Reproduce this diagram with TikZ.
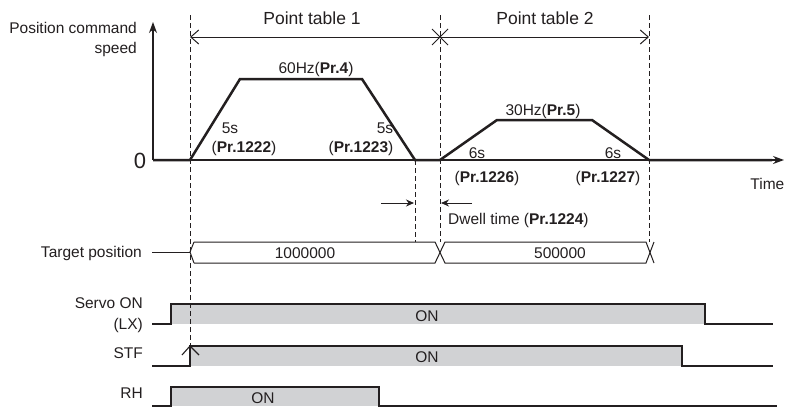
\documentclass[tikz,border=0pt]{standalone}
\usepackage{fontspec}
\setmainfont{Liberation Sans}
\usetikzlibrary{arrows.meta}
\definecolor{ink}{HTML}{231F20}
\definecolor{fillgray}{HTML}{D1D2D4}
\begin{document}
\begin{tikzpicture}[x=1pt,y=-1pt,
  lbl/.style={inner sep=0pt, text=ink, font=\fontsize{15.5}{18}\selectfont, text height=11pt, text depth=0pt},
  big/.style={inner sep=0pt, text=ink, font=\fontsize{17.5}{20}\selectfont, text height=12.5pt, text depth=0pt},
  thinline/.style={draw=ink, line width=1pt},
  guide/.style={draw=ink, line width=0.9pt, dash pattern=on 5pt off 3pt},
  profile/.style={draw=ink, line width=2.5pt, line join=miter},
  sig/.style={draw=ink, line width=1.1pt},
  axisarrow/.style={draw=ink, line width=1.1pt, -{Stealth[length=11pt,width=8pt]}},
  dwell/.style={draw=ink, line width=1pt, -{Stealth[length=8pt,width=7pt]}},
  spanarrow/.style={draw=ink, line width=1pt, {Straight Barb[length=8pt,width=14pt]}-{Straight Barb[length=8pt,width=14pt]}},
  ]
\fill[white] (0,0) rectangle (785,407);
\useasboundingbox (0,0) rectangle (785,407);

% ---------- gray ON areas ----------
\fill[fillgray] (171,304) rectangle (705,324);
\fill[fillgray] (190,346) rectangle (682,366);
\fill[fillgray] (171,387) rectangle (379,406);

% ---------- guides ----------
\coordinate (g1t) at (190,15); \coordinate (g1b) at (190,346);
\coordinate (g2t) at (415,160); \coordinate (g2b) at (415,242);
\coordinate (g3t) at (440,15); \coordinate (g3b) at (440,242);
\coordinate (g4t) at (649,15); \coordinate (g4b) at (649,242);
\draw[guide] (g1t) -- (g1b);
\draw[guide] (g2t) -- (g2b);
\draw[guide] (g3t) -- (g3b);
\draw[guide] (g4t) -- (g4b);

% ---------- speed axes ----------
\coordinate (origin) at (153,160);
\coordinate (yend) at (153,22);
\coordinate (xend) at (784,160);
\draw[axisarrow] (origin) -- (yend);
\draw[axisarrow] (origin) -- (xend);
\draw[profile] (origin) -- (190,160) -- (240,79) -- (362,79) -- (415,160) -- (440,160)
  -- (497,120) -- (592,120) -- (649,160) -- (772,160);

% ---------- point table span ----------
\coordinate (pt1) at (190,37); \coordinate (pt2) at (649,37);
\draw[spanarrow] (pt1) -- (pt2);
\draw[thinline] (432,29) -- (448,45) (432,45) -- (448,29);

% ---------- dwell arrows ----------
\coordinate (d1s) at (381,203); \coordinate (d1e) at (414,203);
\coordinate (d2s) at (472,203); \coordinate (d2e) at (441,203);
\draw[dwell] (d1s) -- (d1e);
\draw[dwell] (d2s) -- (d2e);

% ---------- target position ----------
\draw[thinline] (152,252) -- (190,252);
\draw[thinline] (194,242) -- (190,252) -- (194,263);
\draw[thinline] (194,242) -- (435,242) -- (445,263) -- (646,263) -- (654,242);
\draw[thinline] (194,263) -- (435,263) -- (445,242) -- (646,242) -- (654,263);

% ---------- signals ----------
\draw[sig] (152,324) -- (171,324) -- (171,304) -- (705,304) -- (705,324) -- (773,324);
\draw[sig] (152,366) -- (190,366) -- (190,346) -- (682,346) -- (682,366) -- (773,366);
\draw[sig] (182,355) -- (190,346) -- (199,355);
\draw[sig] (152,406) -- (171,406) -- (171,387) -- (379,387) -- (379,406) -- (777,406);

% ---------- labels ----------
\node[lbl, anchor=east] (pc) at (137,28) {Position command};
\node[lbl, anchor=east] (sp) at (137,48) {speed};
\node[big] (t1) at (312,18) {Point table 1};
\node[big] (t2) at (545,18) {Point table 2};
\node[inner sep=0pt, text=ink, font=\fontsize{22}{24}\selectfont] (zero) at (140,161) {0};
\node[lbl, anchor=east] (time) at (784.5,184) {Time};
\node[lbl] (f1) at (316,68) {60Hz(\textbf{Pr.4})};
\node[lbl] (a1) at (230,128) {5s};
\node[lbl] (a1p) at (244,147) {(\textbf{Pr.1222})};
\node[lbl] (b1) at (385,128) {5s};
\node[lbl] (b1p) at (361,147) {(\textbf{Pr.1223})};
\node[lbl] (f2) at (543,110) {30Hz(\textbf{Pr.5})};
\node[lbl] (a2) at (477,153) {6s};
\node[lbl] (b2) at (613,153) {6s};
\node[lbl] (a2p) at (487,177) {(\textbf{Pr.1226})};
\node[lbl] (b2p) at (608,177) {(\textbf{Pr.1227})};
\node[lbl, anchor=west] (dw) at (448,219) {Dwell time (\textbf{Pr.1224})};
\node[lbl, anchor=east] (tp) at (142,252) {Target position};
\node[lbl] (v1) at (305,253) {1000000};
\node[lbl] (v2) at (560,253) {500000};
\node[lbl, anchor=east] (so) at (143,303) {Servo ON};
\node[lbl, anchor=east] (lx) at (143,324) {(LX)};
\node[lbl, anchor=east] (stf) at (143,353) {STF};
\node[lbl, anchor=east] (rh) at (143,393) {RH};
\node[lbl] (on1) at (427,316) {ON};
\node[lbl] (on2) at (427,357) {ON};
\node[lbl] (on3) at (263,398) {ON};
\end{tikzpicture}
\end{document}
